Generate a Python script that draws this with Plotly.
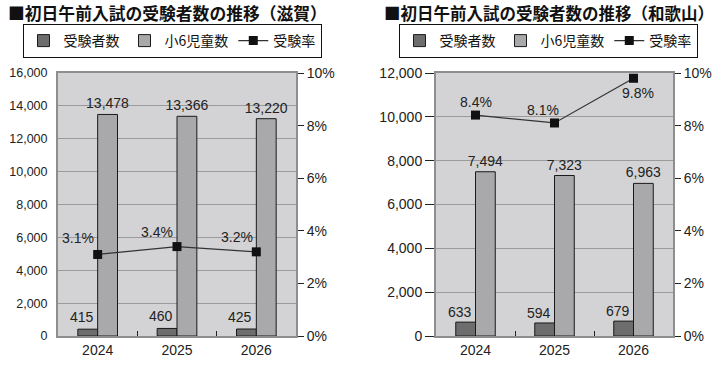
import plotly.graph_objects as go

# ---------------- data ----------------
years = ["2024", "2025", "2026"]

shiga_examinees = [415, 460, 425]
shiga_grade6 = [13478, 13366, 13220]
shiga_rate = [3.1, 3.4, 3.2]

wakayama_examinees = [633, 594, 679]
wakayama_grade6 = [7494, 7323, 6963]
wakayama_rate = [8.4, 8.1, 9.8]

title_shiga = "■初日午前入試の受験者数の推移（滋賀）"
title_wakayama = "■初日午前入試の受験者数の推移（和歌山）"
name_exam = "受験者数"
name_g6 = "小6児童数"
name_rate = "受験率"

# ---------------- style ----------------
W, H = 723, 367
DARK = "#6d6d6d"
LIGHT = "#a9a9ab"
PLOT_BG = "#d3d3d5"
GRID = "#9a9a9a"
BORDER = "#8e8e8e"
FONT = "Liberation Sans, Arial, Noto Sans CJK JP"
JFONT = "Noto Sans CJK JP"


def px_x(v):
    return v / W


def px_y(v):
    return 1 - v / H


fig = go.Figure()

panels = [
    dict(x="x", y="y", yr="y3", ex=shiga_examinees, g6=shiga_grade6, rate=shiga_rate,
         legend="legend"),
    dict(x="x2", y="y2", yr="y4", ex=wakayama_examinees, g6=wakayama_grade6,
         rate=wakayama_rate, legend="legend2"),
]

for p in panels:
    fig.add_trace(go.Bar(
        x=years, y=p["ex"], name=name_exam, xaxis=p["x"], yaxis=p["y"],
        marker=dict(color=DARK, line=dict(color="#1a1a1a", width=1)),
        legend=p["legend"]))
    fig.add_trace(go.Bar(
        x=years, y=p["g6"], name=name_g6, xaxis=p["x"], yaxis=p["y"],
        marker=dict(color=LIGHT, line=dict(color="#1a1a1a", width=1)),
        text=[f"{v:,}" for v in p["g6"]], textposition="outside",
        constraintext="none",
        textfont=dict(size=14, color="#222"), cliponaxis=False,
        legend=p["legend"]))
    fig.add_trace(go.Scatter(
        x=years, y=p["rate"], name=name_rate, xaxis=p["x"], yaxis=p["yr"],
        mode="lines+markers",
        line=dict(color="#333333", width=1.2),
        marker=dict(symbol="square", size=9, color="#111111"),
        cliponaxis=False,
        legend=p["legend"]))

# examinee labels (offset in px from category centre / bar top)
for xa, ya, vals, dy in [("x", "y", shiga_examinees, 12),
                         ("x2", "y2", wakayama_examinees, 10)]:
    for i, v in enumerate(vals):
        fig.add_annotation(x=i, y=v, xref=xa, yref=ya, text=f"{v:,}",
                           showarrow=False, xshift=-16, yshift=dy,
                           font=dict(size=14, color="#222", family=FONT))

# percent labels (offsets in px from each marker); category index used for x
pct_offsets_shiga = [(-20, 16), (-20, 15), (-19, 15)]
pct_offsets_wak = [(0, 13), (-12, 13), (4, -15)]
for xa, ya, rates, offs in [("x", "y3", shiga_rate, pct_offsets_shiga),
                            ("x2", "y4", wakayama_rate, pct_offsets_wak)]:
    for i, (r, (dx, dy)) in enumerate(zip(rates, offs)):
        fig.add_annotation(x=i, y=r, xref=xa, yref=ya, text=f"{r}%",
                           showarrow=False, xshift=dx, yshift=dy,
                           font=dict(size=14, color="#222", family=FONT))

# titles
fig.add_annotation(x=px_x(6), y=px_y(13), xref="paper", yref="paper",
                   text=title_shiga, showarrow=False, xanchor="left", yanchor="middle",
                   font=dict(size=16.8, family=JFONT, color="#111", weight="bold"))
fig.add_annotation(x=px_x(382), y=px_y(13), xref="paper", yref="paper",
                   text=title_wakayama, showarrow=False, xanchor="left", yanchor="middle",
                   font=dict(size=16.5, family=JFONT, color="#111", weight="bold"))

ydom = [px_y(336), px_y(73)]
xdom1 = [px_x(58), px_x(296)]
xdom2 = [px_x(436), px_x(673)]

xcommon = dict(type="category", range=[-0.5, 2.5], showline=True, linecolor=BORDER,
               linewidth=2, mirror=True, ticks="inside", tickson="boundaries",
               ticklen=5, tickcolor="#222", tickwidth=1, showgrid=False,
               tickfont=dict(size=14, color="#222", family=FONT), automargin=False)
ycommon = dict(showline=True, linecolor=BORDER, linewidth=2, showgrid=True,
               gridcolor=GRID, gridwidth=1, tickformat=",", dtick=2000,
               zeroline=False, automargin=False, domain=ydom)
yrcommon = dict(side="right", range=[0, 10], dtick=2, ticksuffix="%",
                showgrid=False, zeroline=False, showline=True, linecolor=BORDER,
                linewidth=2, ticks="outside", ticklen=6, tickcolor="#222",
                tickfont=dict(size=14, color="#222", family=FONT), automargin=False)

fig.update_layout(
    width=W, height=H,
    margin=dict(l=0, r=0, t=0, b=0),
    paper_bgcolor="white", plot_bgcolor=PLOT_BG,
    font=dict(family=FONT, color="#222"),
    barmode="group", bargap=0.5, bargroupgap=0,
    xaxis=dict(domain=xdom1, anchor="y", **xcommon),
    xaxis2=dict(domain=xdom2, anchor="y2", **xcommon),
    yaxis=dict(anchor="x", range=[0, 16000], ticks="", ticklabelstandoff=6,
               tickfont=dict(size=12.5, color="#222", family=FONT), **ycommon),
    yaxis2=dict(anchor="x2", range=[0, 12000], ticks="outside", ticklen=9,
                tickcolor="#222", tickfont=dict(size=14, color="#222", family=FONT),
                **ycommon),
    yaxis3=dict(overlaying="y", anchor="x", **yrcommon),
    yaxis4=dict(overlaying="y2", anchor="x2", **yrcommon),
    legend=dict(orientation="h", x=px_x(172), y=px_y(24), xanchor="center",
                yanchor="top", bordercolor="#111", borderwidth=1,
                bgcolor="white", itemwidth=30, traceorder="normal",
                font=dict(size=14, family=JFONT, color="#111")),
    legend2=dict(orientation="h", x=px_x(548), y=px_y(24), xanchor="center",
                 yanchor="top", bordercolor="#111", borderwidth=1,
                 bgcolor="white", itemwidth=30, traceorder="normal",
                 font=dict(size=14, family=JFONT, color="#111")),
)

fig.write_html("out.html", config={"displayModeBar": False},
               post_script="document.body.style.margin='0px';")
